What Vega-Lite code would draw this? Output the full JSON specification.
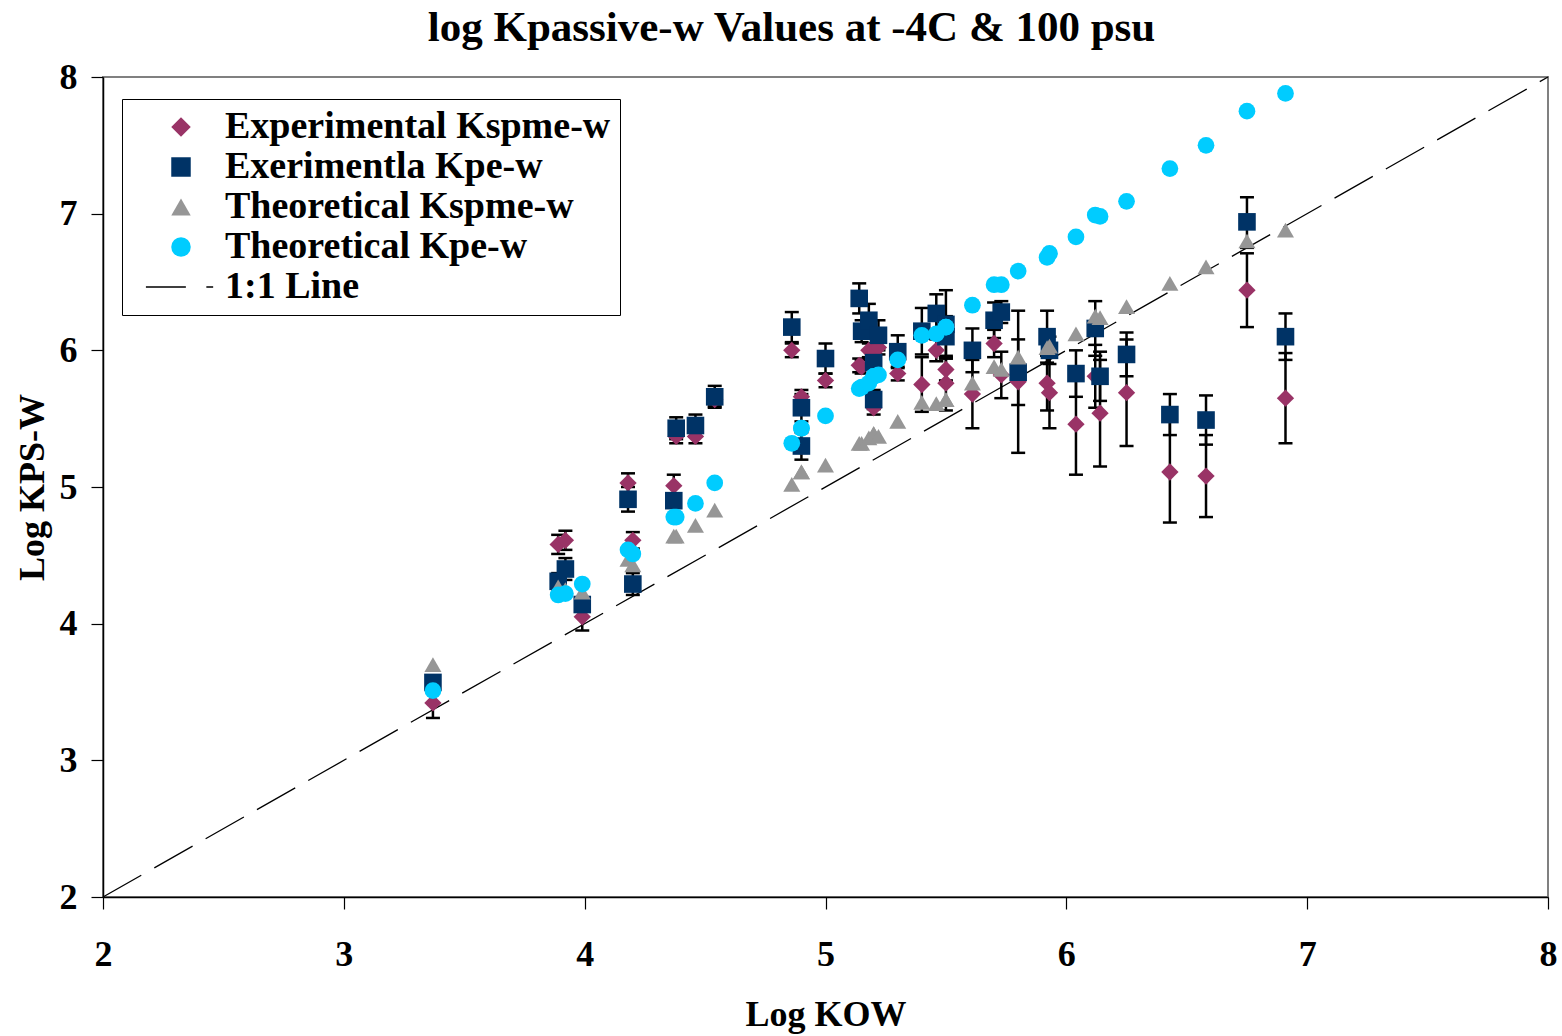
{
  "$schema": "https://vega.github.io/schema/vega-lite/v6.json",
  "autosize": "none",
  "width": 1445,
  "height": 820,
  "padding": {"left": 103, "top": 77, "right": 14, "bottom": 139},
  "background": "white",
  "title": {"text": "log Kpassive-w Values at -4C & 100 psu", "font": "Liberation Serif", "fontSize": 43, "fontWeight": "bold", "color": "black", "anchor": "middle", "offset": 9, "dx": -34},
  "config": {
    "font": "Liberation Serif",
    "view": {"stroke": "#808080", "strokeWidth": 2},
    "axis": {"labelFont": "Liberation Serif", "labelFontSize": 36, "labelFontWeight": "bold", "labelColor": "black", "titleFont": "Liberation Serif", "titleFontSize": 36, "titleFontWeight": "bold", "titleColor": "black", "grid": false, "tickColor": "black", "tickSize": 12, "tickWidth": 1.2, "domainColor": "black", "domainWidth": 1.5, "tickCount": 6, "labelFlush": false, "labelOverlap": false},
    "axisX": {"labelPadding": 28, "titlePadding": 25},
    "axisY": {"labelPadding": 14, "titlePadding": 8}
  },
  "data": {"values": [
    {"s":"Experimental Kspme-w","x":3.37,"y":3.42,"lo":3.31,"hi":3.53},
    {"s":"Experimental Kspme-w","x":3.89,"y":4.58,"lo":4.51,"hi":4.65},
    {"s":"Experimental Kspme-w","x":3.92,"y":4.61,"lo":4.54,"hi":4.68},
    {"s":"Experimental Kspme-w","x":3.99,"y":4.05,"lo":3.95,"hi":4.15},
    {"s":"Experimental Kspme-w","x":4.18,"y":5.03,"lo":4.96,"hi":5.10},
    {"s":"Experimental Kspme-w","x":4.20,"y":4.61,"lo":4.55,"hi":4.67},
    {"s":"Experimental Kspme-w","x":4.37,"y":5.01,"lo":4.93,"hi":5.09},
    {"s":"Experimental Kspme-w","x":4.38,"y":5.37,"lo":5.32,"hi":5.42},
    {"s":"Experimental Kspme-w","x":4.46,"y":5.37,"lo":5.32,"hi":5.42},
    {"s":"Experimental Kspme-w","x":4.54,"y":5.64,"lo":5.59,"hi":5.69},
    {"s":"Experimental Kspme-w","x":4.86,"y":6.00,"lo":5.95,"hi":6.05},
    {"s":"Experimental Kspme-w","x":4.90,"y":5.66,"lo":5.61,"hi":5.71},
    {"s":"Experimental Kspme-w","x":4.90,"y":5.30,"lo":5.25,"hi":5.35},
    {"s":"Experimental Kspme-w","x":5.00,"y":5.78,"lo":5.73,"hi":5.83},
    {"s":"Experimental Kspme-w","x":5.14,"y":5.89,"lo":5.84,"hi":5.94},
    {"s":"Experimental Kspme-w","x":5.15,"y":5.88,"lo":5.83,"hi":5.93},
    {"s":"Experimental Kspme-w","x":5.18,"y":6.00,"lo":5.95,"hi":6.05},
    {"s":"Experimental Kspme-w","x":5.20,"y":6.00,"lo":5.95,"hi":6.05},
    {"s":"Experimental Kspme-w","x":5.20,"y":5.58,"lo":5.53,"hi":5.63},
    {"s":"Experimental Kspme-w","x":5.22,"y":6.02,"lo":5.97,"hi":6.07},
    {"s":"Experimental Kspme-w","x":5.30,"y":5.83,"lo":5.78,"hi":5.88},
    {"s":"Experimental Kspme-w","x":5.40,"y":5.75,"lo":5.55,"hi":5.95},
    {"s":"Experimental Kspme-w","x":5.46,"y":6.00,"lo":5.92,"hi":6.08},
    {"s":"Experimental Kspme-w","x":5.50,"y":5.86,"lo":5.78,"hi":5.94},
    {"s":"Experimental Kspme-w","x":5.50,"y":5.76,"lo":5.56,"hi":5.96},
    {"s":"Experimental Kspme-w","x":5.61,"y":5.68,"lo":5.43,"hi":5.93},
    {"s":"Experimental Kspme-w","x":5.70,"y":6.05,"lo":5.95,"hi":6.15},
    {"s":"Experimental Kspme-w","x":5.73,"y":5.82,"lo":5.65,"hi":5.99},
    {"s":"Experimental Kspme-w","x":5.80,"y":5.77,"lo":5.25,"hi":6.29},
    {"s":"Experimental Kspme-w","x":5.92,"y":5.76,"lo":5.56,"hi":5.96},
    {"s":"Experimental Kspme-w","x":5.93,"y":5.69,"lo":5.43,"hi":5.95},
    {"s":"Experimental Kspme-w","x":6.04,"y":5.46,"lo":5.09,"hi":5.83},
    {"s":"Experimental Kspme-w","x":6.12,"y":5.81,"lo":5.58,"hi":6.04},
    {"s":"Experimental Kspme-w","x":6.14,"y":5.54,"lo":5.15,"hi":5.93},
    {"s":"Experimental Kspme-w","x":6.25,"y":5.69,"lo":5.30,"hi":6.08},
    {"s":"Experimental Kspme-w","x":6.43,"y":5.11,"lo":4.74,"hi":5.48},
    {"s":"Experimental Kspme-w","x":6.58,"y":5.08,"lo":4.78,"hi":5.38},
    {"s":"Experimental Kspme-w","x":6.75,"y":6.44,"lo":6.17,"hi":6.71},
    {"s":"Experimental Kspme-w","x":6.91,"y":5.65,"lo":5.32,"hi":5.98},
    {"s":"Exerimentla Kpe-w","x":3.37,"y":3.57,"lo":3.52,"hi":3.62},
    {"s":"Exerimentla Kpe-w","x":3.89,"y":4.31,"lo":4.25,"hi":4.37},
    {"s":"Exerimentla Kpe-w","x":3.92,"y":4.40,"lo":4.32,"hi":4.48},
    {"s":"Exerimentla Kpe-w","x":3.99,"y":4.14,"lo":4.09,"hi":4.19},
    {"s":"Exerimentla Kpe-w","x":4.18,"y":4.91,"lo":4.82,"hi":5.00},
    {"s":"Exerimentla Kpe-w","x":4.20,"y":4.29,"lo":4.21,"hi":4.37},
    {"s":"Exerimentla Kpe-w","x":4.37,"y":4.90,"lo":4.85,"hi":4.95},
    {"s":"Exerimentla Kpe-w","x":4.38,"y":5.43,"lo":5.35,"hi":5.51},
    {"s":"Exerimentla Kpe-w","x":4.46,"y":5.45,"lo":5.37,"hi":5.53},
    {"s":"Exerimentla Kpe-w","x":4.54,"y":5.66,"lo":5.58,"hi":5.74},
    {"s":"Exerimentla Kpe-w","x":4.86,"y":6.17,"lo":6.06,"hi":6.28},
    {"s":"Exerimentla Kpe-w","x":4.90,"y":5.58,"lo":5.48,"hi":5.68},
    {"s":"Exerimentla Kpe-w","x":4.90,"y":5.30,"lo":5.20,"hi":5.40},
    {"s":"Exerimentla Kpe-w","x":5.00,"y":5.94,"lo":5.83,"hi":6.05},
    {"s":"Exerimentla Kpe-w","x":5.14,"y":6.38,"lo":6.27,"hi":6.49},
    {"s":"Exerimentla Kpe-w","x":5.15,"y":6.14,"lo":6.06,"hi":6.22},
    {"s":"Exerimentla Kpe-w","x":5.18,"y":6.22,"lo":6.10,"hi":6.34},
    {"s":"Exerimentla Kpe-w","x":5.20,"y":5.91,"lo":5.83,"hi":5.99},
    {"s":"Exerimentla Kpe-w","x":5.20,"y":5.64,"lo":5.57,"hi":5.71},
    {"s":"Exerimentla Kpe-w","x":5.22,"y":6.11,"lo":6.00,"hi":6.22},
    {"s":"Exerimentla Kpe-w","x":5.30,"y":5.99,"lo":5.87,"hi":6.11},
    {"s":"Exerimentla Kpe-w","x":5.40,"y":6.14,"lo":5.97,"hi":6.31},
    {"s":"Exerimentla Kpe-w","x":5.46,"y":6.27,"lo":6.13,"hi":6.41},
    {"s":"Exerimentla Kpe-w","x":5.50,"y":6.19,"lo":5.94,"hi":6.44},
    {"s":"Exerimentla Kpe-w","x":5.50,"y":6.10,"lo":5.95,"hi":6.25},
    {"s":"Exerimentla Kpe-w","x":5.61,"y":6.00,"lo":5.84,"hi":6.16},
    {"s":"Exerimentla Kpe-w","x":5.70,"y":6.22,"lo":6.09,"hi":6.35},
    {"s":"Exerimentla Kpe-w","x":5.73,"y":6.28,"lo":6.20,"hi":6.36},
    {"s":"Exerimentla Kpe-w","x":5.80,"y":5.84,"lo":5.60,"hi":6.08},
    {"s":"Exerimentla Kpe-w","x":5.92,"y":6.10,"lo":5.91,"hi":6.29},
    {"s":"Exerimentla Kpe-w","x":5.93,"y":6.00,"lo":5.90,"hi":6.10},
    {"s":"Exerimentla Kpe-w","x":6.04,"y":5.83,"lo":5.66,"hi":6.00},
    {"s":"Exerimentla Kpe-w","x":6.12,"y":6.16,"lo":5.96,"hi":6.36},
    {"s":"Exerimentla Kpe-w","x":6.14,"y":5.81,"lo":5.63,"hi":5.99},
    {"s":"Exerimentla Kpe-w","x":6.25,"y":5.97,"lo":5.81,"hi":6.13},
    {"s":"Exerimentla Kpe-w","x":6.43,"y":5.53,"lo":5.38,"hi":5.68},
    {"s":"Exerimentla Kpe-w","x":6.58,"y":5.49,"lo":5.31,"hi":5.67},
    {"s":"Exerimentla Kpe-w","x":6.75,"y":6.94,"lo":6.75,"hi":7.12},
    {"s":"Exerimentla Kpe-w","x":6.91,"y":6.10,"lo":5.93,"hi":6.27},
    {"s":"Theoretical Kspme-w","x":3.37,"y":3.70},
    {"s":"Theoretical Kspme-w","x":3.89,"y":4.27},
    {"s":"Theoretical Kspme-w","x":3.92,"y":4.25},
    {"s":"Theoretical Kspme-w","x":3.99,"y":4.23},
    {"s":"Theoretical Kspme-w","x":4.18,"y":4.47},
    {"s":"Theoretical Kspme-w","x":4.20,"y":4.43},
    {"s":"Theoretical Kspme-w","x":4.37,"y":4.64},
    {"s":"Theoretical Kspme-w","x":4.38,"y":4.64},
    {"s":"Theoretical Kspme-w","x":4.46,"y":4.72},
    {"s":"Theoretical Kspme-w","x":4.54,"y":4.83},
    {"s":"Theoretical Kspme-w","x":4.86,"y":5.02},
    {"s":"Theoretical Kspme-w","x":4.90,"y":5.11},
    {"s":"Theoretical Kspme-w","x":4.90,"y":5.11},
    {"s":"Theoretical Kspme-w","x":5.00,"y":5.16},
    {"s":"Theoretical Kspme-w","x":5.14,"y":5.32},
    {"s":"Theoretical Kspme-w","x":5.15,"y":5.32},
    {"s":"Theoretical Kspme-w","x":5.18,"y":5.36},
    {"s":"Theoretical Kspme-w","x":5.20,"y":5.39},
    {"s":"Theoretical Kspme-w","x":5.20,"y":5.39},
    {"s":"Theoretical Kspme-w","x":5.22,"y":5.37},
    {"s":"Theoretical Kspme-w","x":5.30,"y":5.48},
    {"s":"Theoretical Kspme-w","x":5.40,"y":5.62},
    {"s":"Theoretical Kspme-w","x":5.46,"y":5.61},
    {"s":"Theoretical Kspme-w","x":5.50,"y":5.64},
    {"s":"Theoretical Kspme-w","x":5.50,"y":5.64},
    {"s":"Theoretical Kspme-w","x":5.61,"y":5.76},
    {"s":"Theoretical Kspme-w","x":5.70,"y":5.88},
    {"s":"Theoretical Kspme-w","x":5.73,"y":5.86},
    {"s":"Theoretical Kspme-w","x":5.80,"y":5.95},
    {"s":"Theoretical Kspme-w","x":5.92,"y":6.02},
    {"s":"Theoretical Kspme-w","x":5.93,"y":6.03},
    {"s":"Theoretical Kspme-w","x":6.04,"y":6.12},
    {"s":"Theoretical Kspme-w","x":6.12,"y":6.25},
    {"s":"Theoretical Kspme-w","x":6.14,"y":6.24},
    {"s":"Theoretical Kspme-w","x":6.25,"y":6.32},
    {"s":"Theoretical Kspme-w","x":6.43,"y":6.49},
    {"s":"Theoretical Kspme-w","x":6.58,"y":6.61},
    {"s":"Theoretical Kspme-w","x":6.75,"y":6.80},
    {"s":"Theoretical Kspme-w","x":6.91,"y":6.88},
    {"s":"Theoretical Kpe-w","x":3.37,"y":3.51},
    {"s":"Theoretical Kpe-w","x":3.89,"y":4.21},
    {"s":"Theoretical Kpe-w","x":3.92,"y":4.22},
    {"s":"Theoretical Kpe-w","x":3.99,"y":4.29},
    {"s":"Theoretical Kpe-w","x":4.18,"y":4.54},
    {"s":"Theoretical Kpe-w","x":4.20,"y":4.51},
    {"s":"Theoretical Kpe-w","x":4.37,"y":4.78},
    {"s":"Theoretical Kpe-w","x":4.38,"y":4.78},
    {"s":"Theoretical Kpe-w","x":4.46,"y":4.88},
    {"s":"Theoretical Kpe-w","x":4.54,"y":5.03},
    {"s":"Theoretical Kpe-w","x":4.86,"y":5.32},
    {"s":"Theoretical Kpe-w","x":4.90,"y":5.43},
    {"s":"Theoretical Kpe-w","x":4.90,"y":5.43},
    {"s":"Theoretical Kpe-w","x":5.00,"y":5.52},
    {"s":"Theoretical Kpe-w","x":5.14,"y":5.72},
    {"s":"Theoretical Kpe-w","x":5.15,"y":5.73},
    {"s":"Theoretical Kpe-w","x":5.18,"y":5.76},
    {"s":"Theoretical Kpe-w","x":5.20,"y":5.81},
    {"s":"Theoretical Kpe-w","x":5.20,"y":5.81},
    {"s":"Theoretical Kpe-w","x":5.22,"y":5.82},
    {"s":"Theoretical Kpe-w","x":5.30,"y":5.93},
    {"s":"Theoretical Kpe-w","x":5.40,"y":6.11},
    {"s":"Theoretical Kpe-w","x":5.46,"y":6.12},
    {"s":"Theoretical Kpe-w","x":5.50,"y":6.17},
    {"s":"Theoretical Kpe-w","x":5.50,"y":6.17},
    {"s":"Theoretical Kpe-w","x":5.61,"y":6.33},
    {"s":"Theoretical Kpe-w","x":5.70,"y":6.48},
    {"s":"Theoretical Kpe-w","x":5.73,"y":6.48},
    {"s":"Theoretical Kpe-w","x":5.80,"y":6.58},
    {"s":"Theoretical Kpe-w","x":5.92,"y":6.68},
    {"s":"Theoretical Kpe-w","x":5.93,"y":6.71},
    {"s":"Theoretical Kpe-w","x":6.04,"y":6.83},
    {"s":"Theoretical Kpe-w","x":6.12,"y":6.99},
    {"s":"Theoretical Kpe-w","x":6.14,"y":6.98},
    {"s":"Theoretical Kpe-w","x":6.25,"y":7.09},
    {"s":"Theoretical Kpe-w","x":6.43,"y":7.33},
    {"s":"Theoretical Kpe-w","x":6.58,"y":7.50},
    {"s":"Theoretical Kpe-w","x":6.75,"y":7.75},
    {"s":"Theoretical Kpe-w","x":6.91,"y":7.88}
  ]},
  "layer": [
    {
      "data": {"values": [{"x": 2, "y": 2}, {"x": 8, "y": 8}]},
      "mark": {"type": "line", "color": "black", "strokeWidth": 1.3, "strokeDash": [44, 15]},
      "encoding": {
        "x": {"field": "x", "type": "quantitative", "scale": {"domain": [2, 8], "nice": false, "zero": false}, "title": "Log KOW"},
        "y": {"field": "y", "type": "quantitative", "scale": {"domain": [2, 8], "nice": false, "zero": false}, "title": "Log KPS-W"}
      }
    },
    {
      "transform": [{"filter": "isValid(datum.lo)"}],
      "mark": {"type": "rule", "color": "black", "strokeWidth": 2.5},
      "encoding": {
        "x": {"field": "x", "type": "quantitative", "title": "Log KOW"},
        "y": {"field": "lo", "type": "quantitative", "title": "Log KPS-W"},
        "y2": {"field": "hi"}
      }
    },
    {
      "transform": [{"filter": "isValid(datum.lo)"}],
      "mark": {"type": "tick", "orient": "horizontal", "color": "black", "thickness": 2.5, "size": 14, "opacity": 1},
      "encoding": {
        "x": {"field": "x", "type": "quantitative", "title": "Log KOW"},
        "y": {"field": "lo", "type": "quantitative", "title": "Log KPS-W"}
      }
    },
    {
      "transform": [{"filter": "isValid(datum.hi)"}],
      "mark": {"type": "tick", "orient": "horizontal", "color": "black", "thickness": 2.5, "size": 14, "opacity": 1},
      "encoding": {
        "x": {"field": "x", "type": "quantitative", "title": "Log KOW"},
        "y": {"field": "hi", "type": "quantitative", "title": "Log KPS-W"}
      }
    },
    {
      "transform": [{"filter": "datum.s === 'Experimental Kspme-w'"}],
      "mark": {"type": "point", "filled": true, "size": 300, "opacity": 1, "strokeWidth": 0},
      "encoding": {
        "x": {"field": "x", "type": "quantitative", "title": "Log KOW"},
        "y": {"field": "y", "type": "quantitative", "title": "Log KPS-W"},
        "color": {"field": "s", "type": "nominal",
          "scale": {"domain": ["Experimental Kspme-w", "Exerimentla Kpe-w", "Theoretical Kspme-w", "Theoretical Kpe-w", "1:1 Line"], "range": ["#993366", "#003366", "#969696", "#00CCFF", "#000000"]},
          "legend": {"orient": "none", "legendX": 19, "legendY": 22, "title": null, "strokeColor": "black", "fillColor": "white", "padding": 9, "symbolSize": 380, "symbolOffset": 31, "labelOffset": 25, "labelFont": "Liberation Serif", "labelFontSize": 38, "labelFontWeight": "bold", "labelColor": "black", "labelLimit": 800, "rowPadding": 2, "symbolStrokeWidth": 0, "symbolOpacity": 1}},
        "shape": {"field": "s", "type": "nominal",
          "scale": {"domain": ["Experimental Kspme-w", "Exerimentla Kpe-w", "Theoretical Kspme-w", "Theoretical Kpe-w", "1:1 Line"], "range": ["diamond", "square", "triangle-up", "circle", "M-3.6,-0.08H0.5V0.08H-3.6Z M2.6,-0.08H3.3V0.08H2.6Z"]}}
      }
    },
    {
      "transform": [{"filter": "datum.s === 'Exerimentla Kpe-w'"}],
      "mark": {"type": "point", "filled": true, "size": 310, "opacity": 1, "strokeWidth": 0},
      "encoding": {
        "x": {"field": "x", "type": "quantitative", "title": "Log KOW"},
        "y": {"field": "y", "type": "quantitative", "title": "Log KPS-W"},
        "color": {"field": "s", "type": "nominal",
          "scale": {"domain": ["Experimental Kspme-w", "Exerimentla Kpe-w", "Theoretical Kspme-w", "Theoretical Kpe-w", "1:1 Line"], "range": ["#993366", "#003366", "#969696", "#00CCFF", "#000000"]}},
        "shape": {"field": "s", "type": "nominal",
          "scale": {"domain": ["Experimental Kspme-w", "Exerimentla Kpe-w", "Theoretical Kspme-w", "Theoretical Kpe-w", "1:1 Line"], "range": ["diamond", "square", "triangle-up", "circle", "M-3.6,-0.08H0.5V0.08H-3.6Z M2.6,-0.08H3.3V0.08H2.6Z"]}}
      }
    },
    {
      "transform": [{"filter": "datum.s === 'Theoretical Kspme-w'"}],
      "mark": {"type": "point", "filled": true, "size": 290, "opacity": 1, "strokeWidth": 0},
      "encoding": {
        "x": {"field": "x", "type": "quantitative", "title": "Log KOW"},
        "y": {"field": "y", "type": "quantitative", "title": "Log KPS-W"},
        "color": {"field": "s", "type": "nominal",
          "scale": {"domain": ["Experimental Kspme-w", "Exerimentla Kpe-w", "Theoretical Kspme-w", "Theoretical Kpe-w", "1:1 Line"], "range": ["#993366", "#003366", "#969696", "#00CCFF", "#000000"]}},
        "shape": {"field": "s", "type": "nominal",
          "scale": {"domain": ["Experimental Kspme-w", "Exerimentla Kpe-w", "Theoretical Kspme-w", "Theoretical Kpe-w", "1:1 Line"], "range": ["diamond", "square", "triangle-up", "circle", "M-3.6,-0.08H0.5V0.08H-3.6Z M2.6,-0.08H3.3V0.08H2.6Z"]}}
      }
    },
    {
      "transform": [{"filter": "datum.s === 'Theoretical Kpe-w'"}],
      "mark": {"type": "point", "filled": true, "size": 280, "opacity": 1, "strokeWidth": 0},
      "encoding": {
        "x": {"field": "x", "type": "quantitative", "title": "Log KOW"},
        "y": {"field": "y", "type": "quantitative", "title": "Log KPS-W"},
        "color": {"field": "s", "type": "nominal",
          "scale": {"domain": ["Experimental Kspme-w", "Exerimentla Kpe-w", "Theoretical Kspme-w", "Theoretical Kpe-w", "1:1 Line"], "range": ["#993366", "#003366", "#969696", "#00CCFF", "#000000"]}},
        "shape": {"field": "s", "type": "nominal",
          "scale": {"domain": ["Experimental Kspme-w", "Exerimentla Kpe-w", "Theoretical Kspme-w", "Theoretical Kpe-w", "1:1 Line"], "range": ["diamond", "square", "triangle-up", "circle", "M-3.6,-0.08H0.5V0.08H-3.6Z M2.6,-0.08H3.3V0.08H2.6Z"]}}
      }
    }
  ]
}
